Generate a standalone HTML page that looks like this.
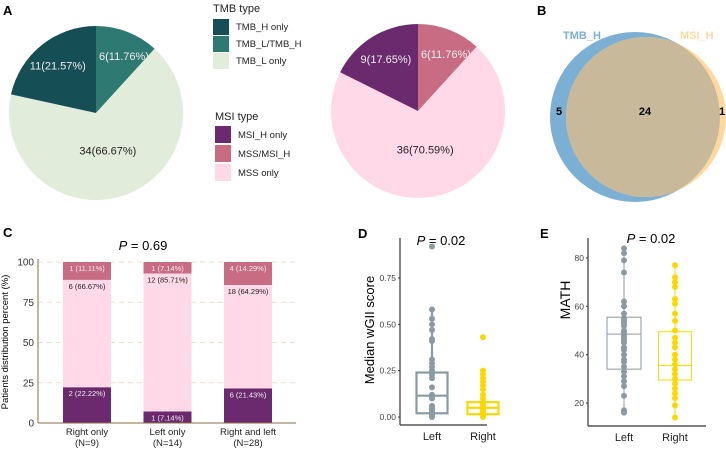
<!DOCTYPE html>
<html><head><meta charset="utf-8"><style>
body{margin:0;background:#fff;width:726px;height:451px;overflow:hidden}
svg{display:block;font-family:"Liberation Sans",sans-serif}
</style></head><body>
<svg id="s" width="726" height="451" xmlns="http://www.w3.org/2000/svg">
<g id="static">
<text x="3" y="15" font-size="13" font-weight="bold">A</text>
<text x="537" y="15" font-size="13" font-weight="bold">B</text>
<text x="3" y="237" font-size="13" font-weight="bold">C</text>
<text x="358" y="238" font-size="13" font-weight="bold">D</text>
<text x="540" y="238" font-size="13" font-weight="bold">E</text>
<g font-size="9.5" fill="#222">
<text x="213" y="12" font-size="11">TMB type</text>
<rect x="213" y="19" width="16" height="16" fill="#164e55"/><text x="236" y="30">TMB_H only</text>
<rect x="213" y="36" width="16" height="16" fill="#2e7a72"/><text x="236" y="47">TMB_L/TMB_H</text>
<rect x="213" y="53" width="16" height="16" fill="#e2ecda"/><text x="236" y="64">TMB_L only</text>
</g>
<g font-size="9.5" fill="#222">
<text x="215" y="120" font-size="11">MSI type</text>
<rect x="215" y="126" width="16" height="17" fill="#6b2a6e"/><text x="238" y="138">MSI_H only</text>
<rect x="215" y="145" width="16" height="17" fill="#c86c83"/><text x="238" y="157">MSS/MSI_H</text>
<rect x="215" y="164" width="16" height="17" fill="#ffd9e8"/><text x="238" y="176">MSS only</text>
</g>
<g>
<circle cx="635" cy="117" r="85" fill="#7bafd4"/>
<circle cx="646" cy="117" r="80" fill="#fdd9a0"/>
<clipPath id="cp"><circle cx="635" cy="117" r="85"/></clipPath>
<circle cx="646" cy="117" r="80" fill="#c8b99a" clip-path="url(#cp)"/>
<text x="563" y="39" font-size="11" font-weight="bold" fill="#7bafd4">TMB_H</text>
<text x="680" y="39" font-size="11" font-weight="bold" fill="#fdd9a0">MSI_H</text>
<text x="556" y="115" font-size="11" font-weight="bold">5</text>
<text x="645" y="115" font-size="11" font-weight="bold" text-anchor="middle">24</text>
<text x="719" y="115" font-size="11" font-weight="bold">1</text>
</g>
</g>
<g id="dyn"></g>
</svg>
<script>
// Pie data
const tmbCounts=[6,34,11];
const tmbLabels=["6(11.76%)","34(66.67%)","11(21.57%)"];
const msiCounts=[6,36,9];
const msiLabels=["6(11.76%)","36(70.59%)","9(17.65%)"];
// Bar chart data (panel C)
const barCats=["Right only","Left only","Right and left"];
const barN=[9,14,28];
const msiH=[2,1,6];
const mss=[6,12,18];
const mssMsiH=[1,1,4];
const yTicksC=[0,25,50,75,100];
// Boxplot D
const dLeft=[0.92,0.58,0.53,0.50,0.47,0.42,0.41,0.31,0.29,0.27,0.25,0.23,0.21,0.16,0.12,0.11,0.10,0.06,0.05,0.04,0.03,0.02,0.01,0.0];
const dRight=[0.43,0.25,0.23,0.21,0.19,0.17,0.15,0.12,0.10,0.08,0.07,0.06,0.05,0.04,0.03,0.02,0.01,0.0];
const dLeftStats=[0.02,0.02,0.115,0.24,0.58];
const dRightStats=[0.01,0.015,0.05,0.08,0.25];
const yTicksD=[0,0.25,0.5,0.75];
// Boxplot E
const eLeft=[84,82,79,74,62,60,57,55,54,53,52,50,49,48,47,46,45,43,42,40,38,37,35,33,31,29,27,23,17,16];
const eRight=[77,72,70,68,63,61,57,54,50,47,45,43,40,38,36,34,32,30,28,26,24,22,19,14];
const eLeftStats=[16,34,48.5,55.5,84];
const eRightStats=[14,29.5,35.5,49.5,77];
const yTicksE=[20,40,60,80];

const NS="http://www.w3.org/2000/svg";
const root=document.getElementById('dyn');
function mk(tag,attrs,parent,txt){const e=document.createElementNS(NS,tag);for(const k in attrs)e.setAttribute(k,attrs[k]);if(txt!==undefined)e.textContent=txt;(parent||root).appendChild(e);return e;}

function pie(cx,cy,r,counts,labels,colors,labCols,name){
  const g=mk('g',{});
  
  
  const tot=counts.reduce((a,b)=>a+b,0);let a0=0;
  counts.forEach((c,i)=>{
    const a1=a0+c/tot*2*Math.PI;
    const x0=cx+r*Math.sin(a0),y0=cy-r*Math.cos(a0),x1=cx+r*Math.sin(a1),y1=cy-r*Math.cos(a1);
    const p=mk('path',{d:`M${cx},${cy}L${x0},${y0}A${r},${r} 0 ${a1-a0>Math.PI?1:0} 1 ${x1},${y1}Z`,fill:colors[i]},g);
    
    
    const am=(a0+a1)/2,rr=i==1?r*0.45:r*0.7;
    const t=mk('text',{x:cx+rr*Math.sin(am)+(i==0?6:0),y:cy-rr*Math.cos(am)+4,'font-size':11,'text-anchor':'middle',fill:labCols[i]},g,labels[i]);
    
    
    a0=a1;
  });
}
pie(96,113,87,tmbCounts,tmbLabels,["#2e7a72","#e2ecda","#164e55"],["#eee","#222","#eee"],'tmb-pie');
pie(418,111,87,msiCounts,msiLabels,["#c86c83","#ffd9e8","#6b2a6e"],["#eee","#222","#eee"],'msi-pie');

// Panel C
(function(){
  const x0=38,x1=296,yb=423,yt=262;
  const Y=v=>yb-(v/100)*(yb-yt);
  const g=mk('g',{});
  
  
  yTicksC.forEach(v=>{
    if(v>0){const l=mk('line',{x1:x0,x2:x1,y1:Y(v),y2:Y(v),stroke:'#eadfd3','stroke-dasharray':'5,4'},g);
    
    }
    const t=mk('text',{x:x0-4,y:Y(v)+3.5,'font-size':10,'text-anchor':'end',fill:'#333'},g,v);
    
    
  });
  const bw=48,step=80.5,start=87;
  barCats.forEach((c,i)=>{
    const cx=start+i*step, n=barN[i];
    const segs=[[msiH[i],'#6b2a6e','#eee'],[mss[i],'#ffd9e8','#222'],[mssMsiH[i],'#c86c83','#eee']];
    let cum=0;
    segs.forEach(([v,col,tc],k)=>{
      const top=(cum+v)/n*100,bot=cum/n*100;
      const r=mk('rect',{x:cx-bw/2,y:Y(top),width:bw,height:Y(bot)-Y(top),fill:col},g);
      
      
      const t=mk('text',{x:cx,y:Y(top)+9,'font-size':7.5,'text-anchor':'middle',fill:tc},g,`${v} (${(v/n*100).toFixed(2)}%)`);
      
      
      cum+=v;
    });
    const t1=mk('text',{x:cx,y:yb+12,'font-size':9.5,'text-anchor':'middle',fill:'#222'},g,c);
    
    
    const t2=mk('text',{x:cx,y:yb+23,'font-size':9.5,'text-anchor':'middle',fill:'#222'},g,`(N=${n})`);
    
    
  });
  mk('line',{x1:x0,x2:x0,y1:yt-3,y2:yb,stroke:'#8b6d45'},g);
  mk('line',{x1:x0,x2:x1,y1:yb,y2:yb,stroke:'#8b6d45'},g);
  const pt=mk('text',{x:143,y:250,'font-size':13,'text-anchor':'middle'},g);
  
  
  pt.innerHTML='<tspan font-style="italic">P</tspan> = 0.69';
  const yl=mk('text',{x:0,y:0,'font-size':9.5,'text-anchor':'middle',transform:`translate(8,342) rotate(-90)`},g,'Patients distribution percent (%)');
  
  
})();

function boxplot(o){
  const g=mk('g',{});
  
  
  const Y=o.Y;
  o.ticks.forEach(v=>{
    const t=mk('text',{x:o.ax-4,y:Y(v)+3,'font-size':8.5,'text-anchor':'end',fill:'#444'},g,o.fmt(v));
    
    
    mk('line',{x1:o.ax-2,x2:o.ax,y1:Y(v),y2:Y(v),stroke:'#333'},g);
  });
  [[o.left,o.lstats,o.lx,o.lw,'#8a9ba3','Left'],[o.right,o.rstats,o.rx,o.rw,'#ffd700','Right']].forEach(([pts,st,cx,w,col,lab])=>{
    const [mn,q1,md,q3,mx]=st;
    mk('line',{x1:cx,x2:cx,y1:Y(mx),y2:Y(q3),stroke:col,'stroke-width':o.sw},g);
    mk('line',{x1:cx,x2:cx,y1:Y(q1),y2:Y(mn),stroke:col,'stroke-width':o.sw},g);
    const b=mk('rect',{x:cx-w/2,y:Y(q3),width:w,height:Y(q1)-Y(q3),fill:'none',stroke:col,'stroke-width':o.sw},g);
    
    
    mk('line',{x1:cx-w/2,x2:cx+w/2,y1:Y(md),y2:Y(md),stroke:col,'stroke-width':o.sw},g);
    pts.forEach(v=>{
      const c=mk('circle',{cx:cx,cy:Y(v),r:3,fill:col},g);
      
      
    });
    const t=mk('text',{x:cx,y:o.yb+15,'font-size':11,'text-anchor':'middle',fill:'#222'},g,lab);
    
    
  });
  mk('line',{x1:o.ax,x2:o.ax,y1:o.yt,y2:o.yb,stroke:'#333','stroke-width':1.2},g);
  mk('line',{x1:o.ax,x2:o.xe,y1:o.yb,y2:o.yb,stroke:'#333','stroke-width':1.2},g);
  const pt=mk('text',{x:o.px,y:o.py,'font-size':13,'text-anchor':'middle'},g);
  
  
  pt.innerHTML='<tspan font-style="italic">P</tspan> = 0.02';
  const yl=mk('text',{x:0,y:0,'font-size':o.tfs,'text-anchor':'middle',transform:`translate(${o.tx},${o.ty}) rotate(-90)`},g,o.title);
  
  
}
boxplot({name:'boxplot-d',Y:v=>417-v*(417-278)/0.75,ticks:yTicksD,fmt:v=>v.toFixed(2),ax:400,yt:238,yb:425,xe:487,
  left:dLeft,right:dRight,lstats:dLeftStats,rstats:dRightStats,lx:432,lw:31,rx:483,rw:31,sw:2.2,
  px:441,py:245,title:'Median wGII score',tfs:13,tx:374,ty:330});
boxplot({name:'boxplot-e',Y:v=>403-(v-20)*(403-258)/60,ticks:yTicksE,fmt:v=>v,ax:588,yt:238,yb:426,xe:706,
  left:eLeft,right:eRight,lstats:eLeftStats,rstats:eRightStats,lx:624,lw:34,rx:675,rw:33,sw:1,
  px:651,py:243,title:'MATH',tfs:14,tx:570,ty:300});
</script>
</body></html>
